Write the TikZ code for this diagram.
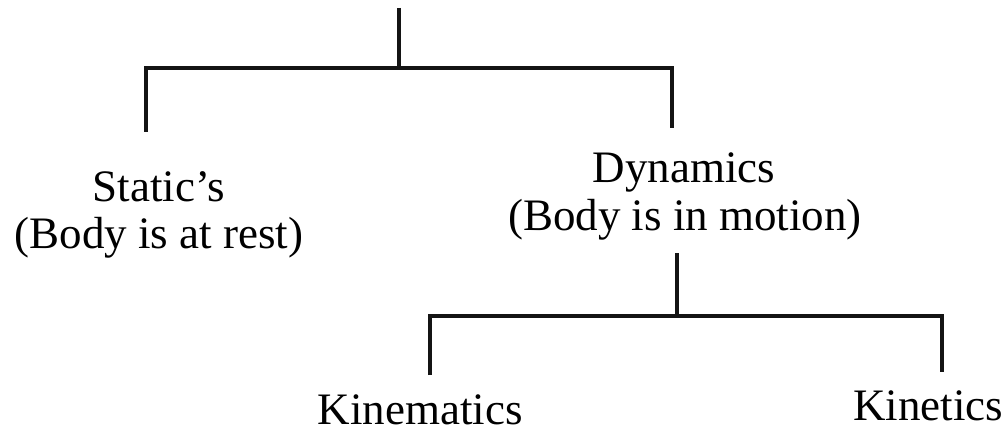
\documentclass[tikz,border=0pt]{standalone}
\usepackage{fontspec}
\setmainfont{Liberation Serif}
\begin{document}
\begin{tikzpicture}[x=1pt,y=-1pt,
  branch/.style={line width=4pt,line join=miter,line cap=butt,draw=black!92},
  label/.style={inner sep=0pt,anchor=base,font=\fontsize{45}{46}\selectfont}]
\useasboundingbox (0,0) rectangle (1005,433);

% labels
\node[label] (statA) at (159,202) {Static's};
\node[label] (statB) at (159,248) {(Body is at rest)};
\node[label] (dynA)  at (684,183) {Dynamics};
\node[label] (dynB)  at (685,230) {(Body is in motion)};
\node[label,text depth=0pt] (kinem) at (420,424) {Kinematics};
\node[label,text depth=0pt] (kinet) at (928,420) {Kinetics};

% free ends of the branches
\coordinate (root)   at (399,8);
\coordinate (bar1)   at (399,68);
\coordinate (statUp) at (146,132);
\coordinate (dynUp)  at (672,128);
\coordinate (dynLow) at (677,253);
\coordinate (bar2)   at (677,316);
\coordinate (kmUp)   at (430,375);
\coordinate (ktUp)   at (942,372);

% upper split
\draw[branch] (root) -- (bar1);
\draw[branch] (statUp) -- (statUp |- bar1) -- (dynUp |- bar1) -- (dynUp);

% lower split
\draw[branch] (dynLow) -- (bar2);
\draw[branch] (kmUp) -- (kmUp |- bar2) -- (ktUp |- bar2) -- (ktUp);
\end{tikzpicture}
\end{document}
